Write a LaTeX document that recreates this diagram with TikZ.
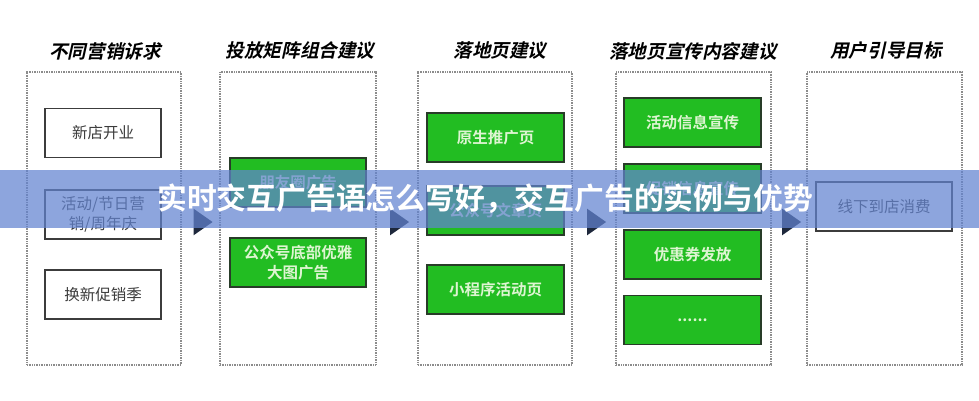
\documentclass[tikz,border=0pt]{standalone}
\usepackage{fontspec}
\usetikzlibrary{shapes.geometric,calc}
\newfontfamily\cjk{Noto Sans CJK SC}
\newfontfamily\cjkb{Noto Sans CJK SC Bold}
\newfontfamily\cjkti{Noto Sans CJK SC Bold}[FakeSlant=0.22]
\definecolor{gfill}{RGB}{34,189,34}
\definecolor{gborder}{RGB}{40,60,40}
\definecolor{gtext}{RGB}{222,245,210}
\definecolor{wtext}{RGB}{60,60,60}
\definecolor{outline}{RGB}{140,140,140}
\definecolor{banner}{RGB}{98,131,208}
\definecolor{arrowc}{RGB}{30,40,60}
\tikzset{
  colbox/.style={draw=outline, line width=1.2pt, dash pattern=on 1pt off 0.7pt, minimum height=293pt, inner sep=0pt},
  coltitle/.style={font=\cjkti\fontsize{18.6}{20}\selectfont, text=black, inner sep=0pt},
  whitebox/.style={draw=wtext, line width=1.2pt, fill=white, minimum width=116pt, minimum height=49pt, inner sep=1pt, align=center, text=wtext, font=\cjk\fontsize{15.5}{20}\selectfont},
  greenbox/.style={draw=gborder, line width=1.5pt, fill=gfill, minimum width=137pt, minimum height=49pt, inner sep=1pt, align=center, text=gtext, font=\cjkb\fontsize{15.5}{20}\selectfont},
  tri/.style={isosceles triangle, isosceles triangle apex angle=70, fill=arrowc, draw=none, minimum height=19pt, inner sep=0pt, shape border rotate=0}
}
\begin{document}
\begin{tikzpicture}[x=1pt,y=-1pt]
\useasboundingbox (0,0) rectangle (979,400);
\fill[white] (0,0) rectangle (979,400);
% columns
\node[colbox, minimum width=154pt] (c1) at (104,218.5) {};
\node[colbox, minimum width=156pt] (c2) at (298,218.5) {};
\node[colbox, minimum width=154pt] (c3) at (495,218.5) {};
\node[colbox, minimum width=155pt] (c4) at (693.5,218.5) {};
\node[colbox, minimum width=155pt] (c5) at (884.5,218.5) {};
% titles
\node[coltitle] (t1) at (105,51) {不同营销诉求};
\node[coltitle] (t2) at (300,51) {投放矩阵组合建议};
\node[coltitle] (t3) at (500,51) {落地页建议};
\node[coltitle] (t4) at (693,51) {落地页宣传内容建议};
\node[coltitle] (t5) at (886,50) {用户引导目标};
% column 1
\node[whitebox] (n1) at (103,133) {新店开业};
\node[whitebox] (n2) at (103,214.5) {活动/节日营\\销/周年庆};
\node[whitebox] (n3) at (103,294.5) {换新促销季};
% column 2
\node[greenbox, minimum width=136pt] (g1) at (298,182.5) {朋友圈广告};
\node[greenbox, minimum width=136pt] (g2) at (298,262.5) {公众号底部优雅\\大图广告};
% column 3
\node[greenbox] (p1) at (495.5,137.5) {原生推广页};
\node[greenbox] (p2) at (495.5,210.5) {公众号文章页};
\node[greenbox] (p3) at (495.5,289.5) {小程序活动页};
% column 4
\node[greenbox] (q1) at (692.5,122.5) {活动信息宣传};
\node[greenbox] (q2) at (692.5,188.5) {促销信息宣传};
\node[greenbox] (q3) at (692.5,254.5) {优惠券发放};
\node[greenbox] (q4) at (692.5,320) {......};
% column 5
\node[whitebox, minimum width=136pt] (u1) at (884,206.5) {线下到店消费};
% arrows between columns
\node[tri] (a1) at ($(c1.east)!0.5!(c2.west)+(0,3.5)$) {};
\node[tri] (a2) at ($(c2.east)!0.5!(c3.west)+(0,3.5)$) {};
\node[tri] (a3) at ($(c3.east)!0.5!(c4.west)+(0,3.5)$) {};
\node[tri] (a4) at ($(c4.east)!0.5!(c5.west)+(0,3.5)$) {};
% banner
\fill[banner, fill opacity=0.72] (0,170) rectangle (979,228);
\node[font=\cjkb\fontsize{29.8}{32}\selectfont, text=white, inner sep=0pt] (bn) at (485,199) {实时交互广告语怎么写好，交互广告的实例与优势};
\end{tikzpicture}
\end{document}
